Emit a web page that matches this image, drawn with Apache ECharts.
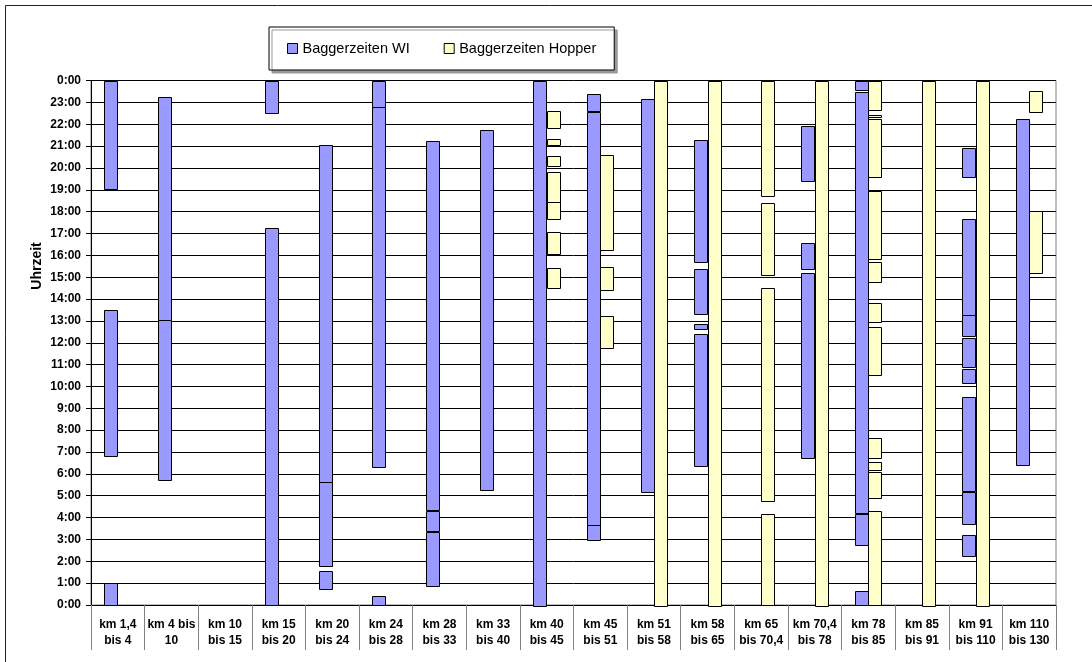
<!DOCTYPE html>
<html>
<head>
<meta charset="utf-8">
<script src="https://cdn.jsdelivr.net/npm/echarts@6/dist/echarts.min.js"></script>
<style>html,body{margin:0;padding:0;background:#fff}#c{width:1092px;height:662px}</style>
</head>
<body>
<div id="c"></div>
<script>
var categories = ["km 1,4\nbis 4","km 4 bis\n10","km 10\nbis 15","km 15\nbis 20","km 20\nbis 24","km 24\nbis 28","km 28\nbis 33","km 33\nbis 40","km 40\nbis 45","km 45\nbis 51","km 51\nbis 58","km 58\nbis 65","km 65\nbis 70,4","km 70,4\nbis 78","km 78\nbis 85","km 85\nbis 91","km 91\nbis 110","km 110\nbis 130"];
var hourTicks = [0,1,2,3,4,5,6,7,8,9,10,11,12,13,14,15,16,17,18,19,20,21,22,23,24];
// [start hour, end hour] segments per category
var wiTimes = [
  [[19.07,24],[6.83,13.5],[0,1]],
  [[13.05,23.25],[5.72,13.05]],
  [],
  [[22.55,24],[0,17.24]],
  [[5.64,21.07],[1.8,5.64],[0.76,1.57]],
  [[22.79,24],[6.33,22.79],[0,0.43]],
  [[4.35,21.24],[3.4,4.3],[0.86,3.33]],
  [[5.25,21.72]],
  [[0,24]],
  [[22.6,23.39],[3.7,22.58],[3.0,3.68]],
  [[5.17,23.17]],
  [[15.71,21.27],[13.3,15.38],[12.62,12.85],[6.36,12.39]],
  [],
  [[19.44,21.94],[15.36,16.57],[6.71,15.18]],
  [[23.58,24],[4.18,23.46],[2.71,4.15],[0,0.65]],
  [],
  [[19.57,20.9],[13.3,17.67],[12.3,13.26],[10.86,12.2],[10.15,10.79],[5.2,9.5],[3.71,5.16],[2.24,3.2]],
  [[6.42,22.23]]
];
var hopperTimes = [
  [],[],[],[],[],[],[],[],
  [[21.84,22.61],[21.08,21.34],[20.06,20.53],[18.46,19.83],[17.67,18.43],[16.1,17.09],[14.49,15.42]],
  [[16.25,20.61],[14.42,15.48],[11.78,13.24]],
  [[0,24]],
  [[0,24]],
  [[18.73,24],[15.1,18.41],[4.76,14.49],[0,4.15]],
  [[0,24]],
  [[22.68,24],[22.35,22.43],[19.59,22.26],[15.85,18.96],[14.81,15.71],[12.92,13.81],[10.56,12.74],[6.73,7.63],[6.18,6.53],[4.88,6.07],[0,4.3]],
  [[0,24]],
  [[0,24]],
  [[22.58,23.52],[15.21,18.03]]
];

function flatten(arr){
  var out=[];
  arr.forEach(function(segs,i){segs.forEach(function(s){out.push([i,s[0],s[1]]);});});
  return out;
}
var FONT = "'Liberation Sans', Arial, sans-serif";
function makeRender(side, color){
  return function(params, api){
    var cat = api.value(0);
    var pTop = api.coord([cat, api.value(2)]);
    var pBot = api.coord([cat, api.value(1)]);
    var band = api.size([1,0])[0];
    var w = band*0.25;
    var x = side===0 ? pTop[0]-w : pTop[0];
    return {
      type:'rect',
      shape:{x:Math.round(x)+0.5, y:Math.round(pTop[1])+0.5, width:Math.round(w), height:Math.round(pBot[1]-pTop[1])},
      style:{fill:color, stroke:'#000', lineWidth:1}
    };
  };
}
var chart = echarts.init(document.getElementById('c'));
chart.setOption({
  animation:false,
  backgroundColor:'#fff',
  textStyle:{fontFamily:FONT},
  grid:{left:91,right:36,top:80.5,bottom:57,show:true,borderColor:'#808080',borderWidth:1},
  legend:{
    left:269, top:27, padding:[14,18,14,18], itemGap:34,
    itemWidth:10, itemHeight:10,
    backgroundColor:'#fff', borderColor:'#000', borderWidth:1,
    shadowColor:'#999', shadowOffsetX:3, shadowOffsetY:3, shadowBlur:0,
    textStyle:{fontFamily:FONT, fontSize:14.5, color:'#000'},
    data:[
      {name:'Baggerzeiten WI', icon:'rect', itemStyle:{color:'#9999FF', borderColor:'#000', borderWidth:1}},
      {name:'Baggerzeiten Hopper', icon:'rect', itemStyle:{color:'#FFFFCC', borderColor:'#000', borderWidth:1}}
    ]
  },
  xAxis:{
    type:'category', data:categories,
    axisLine:{show:true, lineStyle:{color:'#000',width:1}},
    axisTick:{show:true, interval:0, alignWithLabel:false, inside:false, length:45, lineStyle:{color:'#808080', width:1}},
    axisLabel:{interval:0, margin:12, lineHeight:16, fontFamily:FONT, fontSize:12, fontWeight:'bold', color:'#000'},
    splitLine:{show:false}
  },
  yAxis:{
    type:'value', min:0, max:24, interval:1,
    axisLine:{show:true, lineStyle:{color:'#000'}},
    axisTick:{show:true, length:5, lineStyle:{color:'#000'}},
    axisLabel:{margin:10, fontFamily:FONT, fontSize:12, fontWeight:'bold', color:'#000',
      formatter:function(v){return (v%24)+':00';}},
    splitLine:{show:true, lineStyle:{color:'#000', width:1}}
  },
  graphic:[
    {type:'rect', shape:{x:5.5,y:5.5,width:1100,height:700}, style:{fill:'none', stroke:'#222', lineWidth:1}, silent:true, z:-10},
    {type:'text', x:37, y:266, rotation:Math.PI/2, style:{text:'Uhrzeit', font:'bold 14px '+FONT, fill:'#000', textAlign:'center', textVerticalAlign:'middle'}}
  ],
  series:[
    {name:'Baggerzeiten WI', type:'custom', color:'#9999FF', itemStyle:{color:'#9999FF'},
     renderItem:makeRender(0,'#9999FF'), encode:{x:0,y:[1,2]}, data:flatten(wiTimes), z:5},
    {name:'Baggerzeiten Hopper', type:'custom', color:'#FFFFCC', itemStyle:{color:'#FFFFCC'},
     renderItem:makeRender(1,'#FFFFCC'), encode:{x:0,y:[1,2]}, data:flatten(hopperTimes), z:5}
  ]
});
</script>
</body>
</html>
